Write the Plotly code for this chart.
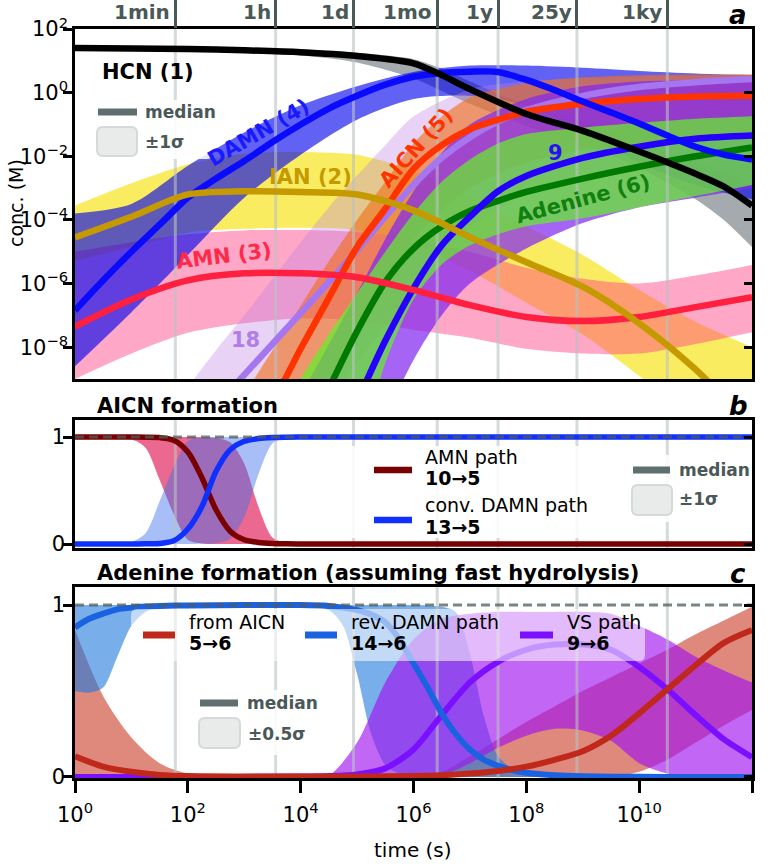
import math
import plotly.graph_objects as go

W, H = 773, 864
FONT = "DejaVu Sans"

# ---------------- data ----------------
mark_labels = ["1min", "1h", "1d", "1mo", "1y", "25y", "1ky"]
mark_seconds = [60, 3600, 86400, 2.63e6, 3.156e7, 7.889e8, 3.156e10]

# panel a : log10(time / s) and log10(conc / M)
hcn_lt = [0, 1, 2, 3, 4, 5, 6, 6.5, 7, 8, 9, 10, 11, 11.5, 12]
hcn_med = [1.4, 1.39, 1.37, 1.33, 1.27, 1.15, 0.92, 0.55, 0.11, -0.67, -1.2, -1.85, -2.55, -2.95, -3.55]
hcn_lo = [1.33, 1.32, 1.3, 1.25, 1.17, 0.95, 0.45, 0.05, -0.35, -1.05, -1.65, -2.35, -3.35, -4.0, -4.85]
hcn_hi = [1.47, 1.46, 1.44, 1.41, 1.36, 1.25, 1.05, 0.75, 0.35, -0.4, -0.95, -1.55, -2.2, -2.5, -2.9]

ian_lt = [0, 1, 2, 3, 4, 5, 6, 7, 8, 9, 10, 11, 12]
ian_med = [-4.55, -3.9, -3.2, -3.1, -3.12, -3.2, -3.7, -4.54, -5.33, -6.1, -7.25, -8.7, -10.5]
ian_lo = [-5.3, -4.85, -4.4, -4.28, -4.25, -4.32, -4.8, -5.6, -6.6, -7.6, -8.9, -10.3, -12.0]
ian_hi = [-3.55, -2.85, -2.25, -1.92, -1.87, -1.95, -2.45, -3.25, -4.2, -5.1, -6.2, -7.2, -8.0]

amn_lt = [0, 1, 2, 3, 4, 5, 6, 7, 8, 9, 10, 11, 12]
amn_med = [-7.35, -6.5, -5.9, -5.68, -5.68, -5.8, -6.2, -6.68, -7.05, -7.18, -7.05, -6.74, -6.43]
amn_lo = [-9.0, -8.2, -7.55, -7.25, -7.1, -7.15, -7.45, -7.7, -8.05, -8.2, -8.2, -7.9, -7.53]
amn_hi = [-5.0, -4.7, -4.45, -4.33, -4.32, -4.38, -4.6, -5.0, -5.5, -5.85, -6.0, -5.75, -5.42]

damn_lt = [0, 0.5, 1, 1.5, 2, 2.5, 3, 3.5, 4, 4.5, 5, 5.5, 6, 6.5, 7, 7.5, 8, 8.5, 9, 9.5, 10, 10.5, 11, 11.5, 12]
damn_med = [-6.85, -5.9, -5.0, -4.15, -3.3, -2.7, -2.15, -1.55, -1.0, -0.5, -0.1, 0.25, 0.5, 0.62, 0.66,
            0.65, 0.4, 0.08, -0.28, -0.62, -0.97, -1.35, -1.7, -1.95, -2.1]
damn_band_lt = [0, 1, 2, 3, 4, 5, 6, 7, 8, 9, 10, 11, 12]
damn_lo = [-8.6, -6.9, -5.1, -3.3, -1.95, -0.85, -0.2, -0.1, -0.4, -1.25, -2.2, -2.9, -3.35]
damn_hi = [-3.8, -3.5, -2.3, -1.25, -0.4, 0.2, 0.65, 0.85, 0.85, 0.78, 0.68, 0.6, 0.55]

aicn_lt = [3, 3.5, 4, 4.5, 5, 5.5, 6, 6.5, 7, 7.5, 8, 9, 10, 11, 12]
aicn_med = [-10.7, -9.7, -8.05, -6.45, -4.85, -3.65, -2.4, -1.65, -1.15, -0.85, -0.6, -0.35, -0.2, -0.12, -0.1]
aicn_band_lt = [2.5, 3, 3.5, 4, 4.5, 5, 5.5, 6, 6.5, 7, 8, 9, 10, 11, 12]
aicn_lo = [-14.5, -13.5, -12.5, -11.0, -9.3, -7.5, -6.0, -4.6, -3.7, -3.0, -2.2, -1.8, -1.6, -1.5, -1.45]
aicn_hi = [-11.0, -9.5, -8.1, -6.7, -5.3, -4.0, -2.8, -1.6, -0.75, -0.15, 0.3, 0.48, 0.55, 0.57, 0.58]

s18_lt = [2.5, 3, 3.5, 4, 4.5, 5, 5.5, 6, 6.5, 7, 7.5, 8, 9, 10, 11, 12]
s18_med = [-9.85, -8.87, -7.9, -6.93, -5.95, -4.95, -3.9, -2.9, -2.05, -1.4, -0.9, -0.55, -0.1, 0.18, 0.33, 0.43]
s18_band_lt = [1.5, 2, 2.5, 3, 3.5, 4, 4.5, 5, 5.5, 6, 7, 8, 9, 10, 11, 12]
s18_lo = [-15, -14, -13, -12, -11.2, -10.4, -9.6, -8.5, -7.3, -6.0, -4.2, -3.2, -2.6, -2.3, -2.1, -2.0]
s18_hi = [-11.0, -9.3, -8.1, -7.0, -5.85, -4.7, -3.6, -2.6, -1.65, -0.75, 0.1, 0.35, 0.45, 0.5, 0.53, 0.55]

s9_lt = [4.5, 5, 5.5, 6, 6.5, 7, 7.5, 8, 9, 10, 11, 12]
s9_med = [-11.5, -9.7, -7.8, -6.15, -4.8, -3.9, -3.1, -2.62, -2.05, -1.7, -1.45, -1.35]
s9_band_lt = [4, 5, 5.5, 6, 6.5, 7, 8, 9, 10, 11, 12]
s9_lo = [-14, -12, -10.2, -8.4, -7.0, -6.0, -4.9, -4.1, -3.6, -3.3, -3.0]
s9_hi = [-9.5, -6.3, -4.6, -3.1, -1.9, -1.0, -0.2, 0.2, 0.35, 0.4, 0.45]

ade_lt = [4, 4.5, 5, 5.5, 6, 6.5, 7, 7.5, 8, 9, 10, 11, 12]
ade_med = [-11.2, -9.3, -7.5, -5.95, -4.9, -4.2, -3.72, -3.4, -3.12, -2.7, -2.33, -2.0, -1.72]
ade_band_lt = [3.5, 4, 4.5, 5, 5.5, 6, 6.5, 7, 7.5, 8, 9, 10, 11, 12]
ade_lo = [-15, -14, -13, -11.5, -8.5, -6.5, -5.4, -4.8, -4.45, -4.2, -3.95, -3.6, -3.25, -2.9]
ade_hi = [-11.0, -9.0, -7.6, -6.3, -5.0, -3.8, -2.8, -2.1, -1.6, -1.3, -1.1, -0.95, -0.82, -0.74]

# panel b : AICN formation fractions
b_lt = [0, 0.5, 1, 1.25, 1.5, 1.75, 2, 2.25, 2.5, 2.75, 3, 3.25, 3.5, 3.75, 4, 5, 6, 8, 10, 12]
amnp_med = [1, 1, 1, 0.998, 0.995, 0.97, 0.86, 0.62, 0.32, 0.12, 0.04, 0.015, 0.005, 0.002, 0, 0, 0, 0, 0, 0]
amnp_lo = [1, 0.998, 0.98, 0.9, 0.6, 0.28, 0.04, 0.005, 0, 0, 0, 0, 0, 0, 0, 0, 0, 0, 0, 0]
amnp_hi = [1, 1, 1, 1, 1, 1, 1, 0.998, 0.99, 0.95, 0.75, 0.35, 0.06, 0.01, 0, 0, 0, 0, 0, 0]
damnp_med = [0, 0, 0, 0.002, 0.005, 0.03, 0.14, 0.35, 0.68, 0.88, 0.96, 0.985, 0.995, 0.998, 1, 1, 1, 1, 1, 1]
damnp_lo = [0, 0, 0, 0, 0, 0, 0, 0.002, 0.01, 0.05, 0.25, 0.65, 0.94, 0.99, 1, 1, 1, 1, 1, 1]
damnp_hi = [0, 0.002, 0.02, 0.1, 0.4, 0.72, 0.96, 0.995, 1, 1, 1, 1, 1, 1, 1, 1, 1, 1, 1, 1]

# panel c : adenine formation fractions
c_red_lt = [0, 0.5, 1, 1.5, 2, 3, 4, 5, 6, 6.5, 7, 7.5, 8, 8.5, 9, 9.5, 10, 10.5, 11, 11.5, 12]
red_med = [0.12, 0.06, 0.03, 0.012, 0.005, 0.003, 0.003, 0.003, 0.005, 0.01, 0.02, 0.035, 0.06, 0.1,
           0.15, 0.24, 0.37, 0.51, 0.65, 0.78, 0.855]
red_lo = [0, 0, 0, 0, 0, 0, 0, 0, 0, 0, 0, 0, 0, 0, 0, 0, 0.03, 0.1, 0.2, 0.3, 0.39]
red_hi = [0.855, 0.47, 0.23, 0.08, 0.02, 0.003, 0.002, 0.003, 0.01, 0.03, 0.12, 0.22, 0.32, 0.41,
          0.5, 0.58, 0.66, 0.74, 0.83, 0.91, 0.99]

c_blue_lt = [0, 0.25, 0.5, 0.75, 1, 1.25, 1.5, 2, 3, 4, 4.5, 4.75, 5, 5.25, 5.5, 5.75, 6, 6.25, 6.5,
             6.75, 7, 7.25, 7.5, 7.75, 8, 8.5, 9, 10, 11, 12]
blue_med = [0.87, 0.92, 0.95, 0.975, 0.985, 0.992, 0.995, 0.998, 1, 1, 0.995, 0.985, 0.97, 0.945, 0.9,
            0.8, 0.66, 0.52, 0.37, 0.25, 0.16, 0.1, 0.065, 0.04, 0.025, 0.01, 0.004, 0.001, 0, 0]
blue_lo = [0.5, 0.49, 0.52, 0.7, 0.88, 0.96, 0.99, 0.998, 1, 0.995, 0.97, 0.88, 0.6, 0.25, 0.07, 0.02,
           0.005, 0, 0, 0, 0, 0, 0, 0, 0, 0, 0, 0, 0, 0]
blue_hi = [1, 1, 1, 1, 1, 1, 1, 1, 1, 1, 1, 1, 1, 1, 1, 1, 1, 0.998, 0.99, 0.96, 0.72, 0.35, 0.12, 0.05,
           0.03, 0.012, 0.005, 0, 0, 0]

c_vs_lt = [0, 2, 4, 4.5, 5, 5.5, 6, 6.5, 7, 7.5, 8, 8.5, 9, 9.5, 10, 10.5, 11, 11.5, 12]
vs_med = [0, 0, 0.002, 0.005, 0.015, 0.05, 0.16, 0.36, 0.55, 0.67, 0.74, 0.77, 0.77, 0.74, 0.64, 0.51,
          0.36, 0.22, 0.115]
vs_lo = [0, 0, 0, 0, 0, 0, 0, 0.01, 0.08, 0.17, 0.24, 0.28, 0.27, 0.21, 0.08, 0.02, 0, 0, 0]
vs_hi = [0, 0, 0.003, 0.01, 0.2, 0.55, 0.8, 0.92, 0.95, 0.96, 0.96, 0.96, 0.96, 0.95, 0.88, 0.8, 0.7,
         0.62, 0.55]

# ---------------- helpers ----------------
def px(x):
    return x / W


def py(y):
    return 1 - y / H


def pw(lst):
    return [10 ** v for v in lst]


def ident(lst):
    return list(lst)


fig = go.Figure()
SM = 0.8


def band(xa, ya, t, lo, hi, color, f):
    fig.add_trace(go.Scatter(x=pw(t), y=f(lo), mode="lines",
                             line=dict(width=0, shape="spline", smoothing=SM),
                             xaxis=xa, yaxis=ya, hoverinfo="skip", showlegend=False))
    fig.add_trace(go.Scatter(x=pw(t), y=f(hi), mode="lines", fill="tonexty", fillcolor=color,
                             line=dict(width=0, shape="spline", smoothing=SM),
                             xaxis=xa, yaxis=ya, hoverinfo="skip", showlegend=False))


def med(xa, ya, t, v, color, width, f):
    fig.add_trace(go.Scatter(x=pw(t), y=f(v), mode="lines",
                             line=dict(width=width, color=color, shape="spline", smoothing=SM),
                             xaxis=xa, yaxis=ya, hoverinfo="skip", showlegend=False))


def vlines(xa, ya, y0, y1):
    xs, ys = [], []
    for s in mark_seconds:
        xs += [s, s, None]
        ys += [y0, y1, None]
    fig.add_trace(go.Scatter(x=xs, y=ys, mode="lines",
                             line=dict(color="rgba(185,193,193,0.6)", width=3),
                             xaxis=xa, yaxis=ya, hoverinfo="skip", showlegend=False))


def dashed_one(xa, ya):
    fig.add_trace(go.Scatter(x=[1, 1e12], y=[1, 1], mode="lines",
                             line=dict(color="rgba(80,92,92,0.75)", width=3, dash="9px,5px"),
                             xaxis=xa, yaxis=ya, hoverinfo="skip", showlegend=False))


# ---------------- panel a ----------------
band("x", "y", hcn_lt, hcn_lo, hcn_hi, "rgba(90,100,105,0.55)", pw)
band("x", "y", ian_lt, ian_lo, ian_hi, "rgba(245,225,0,0.62)", pw)
band("x", "y", amn_lt, amn_lo, amn_hi, "rgba(255,60,130,0.45)", pw)
band("x", "y", damn_band_lt, damn_lo, damn_hi, "rgba(0,0,235,0.62)", pw)
band("x", "y", s18_band_lt, s18_lo, s18_hi, "rgba(190,130,230,0.35)", pw)
band("x", "y", aicn_band_lt, aicn_lo, aicn_hi, "rgba(240,110,20,0.6)", pw)
band("x", "y", s9_band_lt, s9_lo, s9_hi, "rgba(130,40,240,0.72)", pw)
band("x", "y", ade_band_lt, ade_lo, ade_hi, "rgba(100,240,40,0.72)", pw)
vlines("x", "y", 1e-12, 1e3)
LW = 6.5
med("x", "y", s18_lt, s18_med, "#a676f0", LW, pw)
med("x", "y", aicn_lt, aicn_med, "#ff3300", LW, pw)
med("x", "y", ade_lt, ade_med, "#007a00", LW, pw)
med("x", "y", s9_lt, s9_med, "#2600ff", LW, pw)
med("x", "y", damn_lt, damn_med, "#0a0aff", LW, pw)
med("x", "y", amn_lt, amn_med, "#ff1f3f", LW, pw)
med("x", "y", ian_lt, ian_med, "#c49a00", LW, pw)
med("x", "y", hcn_lt, hcn_med, "#000000", LW, pw)

# ---------------- panel b ----------------
band("x2", "y2", b_lt, amnp_lo, amnp_hi, "rgba(225,30,90,0.67)", ident)
band("x2", "y2", b_lt, damnp_lo, damnp_hi, "rgba(60,110,235,0.45)", ident)
vlines("x2", "y2", -0.2, 1.3)
med("x2", "y2", b_lt, amnp_med, "#780000", 5.5, ident)
med("x2", "y2", b_lt, damnp_med, "#1030ff", 5.5, ident)
dashed_one("x2", "y2")

# ---------------- panel c ----------------
band("x3", "y3", c_red_lt, red_lo, red_hi, "rgba(200,50,30,0.58)", ident)
band("x3", "y3", c_blue_lt, blue_lo, blue_hi, "rgba(30,120,220,0.6)", ident)
band("x3", "y3", c_vs_lt, vs_lo, vs_hi, "rgba(160,20,240,0.65)", ident)
vlines("x3", "y3", -0.2, 1.3)
med("x3", "y3", c_vs_lt, vs_med, "#7a10ff", 6, ident)
med("x3", "y3", c_blue_lt, blue_med, "#1a62e0", 6, ident)
med("x3", "y3", c_red_lt, red_med, "#c0281c", 6, ident)
dashed_one("x3", "y3")

# dummy traces for overlay (tick-only) axes
for xa, ya, yv in [("x4", "y", 1), ("x", "y4", 1), ("x2", "y5", 0.5), ("x3", "y6", 0.5)]:
    fig.add_trace(go.Scatter(x=[10], y=[yv], mode="markers", marker=dict(opacity=0, size=1),
                             xaxis=xa, yaxis=ya, hoverinfo="skip", showlegend=False))

# ---------------- axes ----------------
XD = [px(75), px(752)]
YA = [py(379), py(29)]
YB = [py(548), py(420)]
YC = [py(778), py(587)]

frame = dict(showline=True, linecolor="black", linewidth=2.5, mirror=True,
             showgrid=False, zeroline=False, automargin=False)
plain = dict(showgrid=False, zeroline=False, showline=False, automargin=False)
tickfont = dict(family=FONT, size=21, color="black")

xt_vals = [10 ** k for k in range(0, 13, 2)]
xt_text = ["10<sup>%d</sup>" % k for k in range(0, 13, 2)]
ya_vals = [10 ** k for k in range(-8, 3, 2)]
ya_text = [("10<sup>%d</sup>" % k).replace("-", "\u2212") for k in range(-8, 3, 2)]

yt = dict(ticks="outside", ticklen=9, tickwidth=2.5, tickcolor="black", tickfont=tickfont)

fig.update_layout(
    template="none",
    width=W, height=H, margin=dict(l=0, r=0, t=0, b=0, pad=0), autosize=False,
    paper_bgcolor="white", plot_bgcolor="white", showlegend=False,
    font=dict(family=FONT, color="black"),
    xaxis=dict(domain=XD, anchor="y", type="log", range=[0, 12], ticks="",
               showticklabels=False, **frame),
    xaxis2=dict(domain=XD, anchor="y2", type="log", range=[0, 12], ticks="",
                showticklabels=False, matches="x", **frame),
    xaxis3=dict(domain=XD, anchor="y3", type="log", range=[0, 12], ticks="outside",
                ticklen=12, tickwidth=2.5, tickcolor="black", tickvals=xt_vals,
                ticktext=xt_text, tickfont=tickfont, matches="x", ticklabelstandoff=4,
                **frame),
    xaxis4=dict(overlaying="x", anchor="y", side="top", type="log", range=[0, 12],
                tickvals=mark_seconds, ticks="outside", ticklen=29, tickwidth=3,
                tickcolor="#4a5858", showticklabels=False, **plain),
    yaxis=dict(domain=YA, anchor="x", type="log", range=[-9, 2], tickvals=ya_vals,
               ticktext=ya_text, ticklabelstandoff=-9, **yt, **frame),
    yaxis2=dict(domain=YB, anchor="x2", range=[-0.037, 1.159], tickvals=[0, 1],
                ticktext=["0", "1"], ticklabelstandoff=-6, **yt, **frame),
    yaxis3=dict(domain=YC, anchor="x3", range=[-0.006, 1.105], tickvals=[0, 1],
                ticktext=["0", "1"], ticklabelstandoff=-6, **yt, **frame),
    yaxis4=dict(overlaying="y", anchor="x", side="right", type="log", range=[-9, 2],
                tickvals=ya_vals, ticks="inside", ticklen=8, tickwidth=2.5,
                tickcolor="black", showticklabels=False, **plain),
    yaxis5=dict(overlaying="y2", anchor="x2", side="right", range=[-0.037, 1.159],
                tickvals=[0, 1], ticks="inside", ticklen=8, tickwidth=2.5,
                tickcolor="black", showticklabels=False, **plain),
    yaxis6=dict(overlaying="y3", anchor="x3", side="right", range=[-0.006, 1.105],
                tickvals=[0, 1], ticks="inside", ticklen=8, tickwidth=2.5,
                tickcolor="black", showticklabels=False, **plain),
)

# ---------------- annotations ----------------
ann = []


def text(x, y, s, size=19, color="black", xanchor="left", angle=0, yanchor="middle"):
    ann.append(dict(x=px(x), y=py(y), xref="paper", yref="paper", text=s, showarrow=False,
                    xanchor=xanchor, yanchor=yanchor, textangle=angle,
                    font=dict(family=FONT, size=size, color=color)))


# top time labels (right-aligned to the tick marks)
for lab, s in zip(mark_labels, mark_seconds):
    ann.append(dict(x=math.log10(s), y=py(12), xref="x", yref="paper",
                    text="<b>%s</b>" % lab, showarrow=False, xanchor="right",
                    yanchor="middle", xshift=-3,
                    font=dict(family=FONT, size=20, color="#4a5858")))

# panel labels
text(738, 15, "<b><i>a</i></b>", size=26, xanchor="center")
text(738, 406, "<b><i>b</i></b>", size=26, xanchor="center")
text(738, 574, "<b><i>c</i></b>", size=26, xanchor="center")

# panel titles / axis titles
text(95, 406, "<b>AICN formation</b>", size=21)
text(95, 573, "<b>Adenine formation (assuming fast hydrolysis)</b>", size=21)
text(413, 850, "time (s)", size=20, xanchor="center")
text(16, 203, "conc. (M)", size=19, xanchor="center", angle=-90)

# species labels in panel a
text(148, 72, "<b>HCN (1)</b>", size=21, xanchor="center")
text(258, 133, "<b>DAMN (4)</b>", size=21, color="#1a1aff", xanchor="center", angle=-30)
text(310, 177, "<b>IAN (2)</b>", size=21, color="#c49a00", xanchor="center")
text(224, 256, "<b>AMN (3)</b>", size=21, color="#ff2a4a", xanchor="center", angle=-7)
text(245, 340, "<b>18</b>", size=21, color="#b07ee8", xanchor="center")
text(416, 148, "<b>AICN (5)</b>", size=21, color="#ff3300", xanchor="center", angle=-48)
text(555, 153, "<b>9</b>", size=21, color="#2a10f0", xanchor="center")
text(583, 199, "<b>Adenine (6)</b>", size=21, color="#108010", xanchor="center", angle=-15)

# legends panel b
text(423, 457, "AMN path", size=19)
text(423, 478, "<b>10\u21925</b>", size=19)
text(423, 505, "conv. DAMN path", size=19)
text(423, 527, "<b>13\u21925</b>", size=19)

# legends panel c
text(187, 622, "from AICN", size=19)
text(187, 643, "<b>5\u21926</b>", size=19)
text(349, 622, "rev. DAMN path", size=19)
text(349, 643, "<b>14\u21926</b>", size=19)
text(565, 622, "VS path", size=19)
text(565, 643, "<b>9\u21926</b>", size=19)

# median / sigma legends
MEDC = "#4a5858"
text(143, 112, "<b>median</b>", size=17, color=MEDC)
text(143, 142, "<b>\u00b11\u03c3</b>", size=17, color=MEDC)
text(677, 470, "<b>median</b>", size=17, color=MEDC)
text(677, 499, "<b>\u00b11\u03c3</b>", size=17, color=MEDC)
text(245, 703, "<b>median</b>", size=17, color=MEDC)
text(246, 734, "<b>\u00b10.5\u03c3</b>", size=17, color=MEDC)

fig.update_layout(annotations=ann)

# ---------------- shapes (legend boxes & swatches) ----------------
shapes = []


def rrect(x0, y0, x1, y1, r, fill, line=None, lw=0):
    pts = ("M {a},{b} L {c},{b} Q {d},{b} {d},{e} L {d},{f} Q {d},{g} {c},{g} "
           "L {a},{g} Q {h},{g} {h},{f} L {h},{e} Q {h},{b} {a},{b} Z")
    path = pts.format(a=px(x0 + r), b=py(y0), c=px(x1 - r), d=px(x1), e=py(y0 + r),
                      f=py(y1 - r), g=py(y1), h=px(x0))
    shapes.append(dict(type="path", path=path, xref="paper", yref="paper",
                       fillcolor=fill, line=dict(color=line or "rgba(0,0,0,0)", width=lw),
                       layer="above"))


def swatch(x0, x1, y, color, width=6.5):
    shapes.append(dict(type="line", x0=px(x0), x1=px(x1), y0=py(y), y1=py(y),
                       xref="paper", yref="paper", line=dict(color=color, width=width),
                       layer="above"))


# legend backgrounds
rrect(93, 100, 212, 159, 5, "rgba(255,255,255,0.85)")
rrect(338, 446, 600, 538, 5, "rgba(255,255,255,0.85)")
rrect(628, 455, 748, 522, 5, "rgba(255,255,255,0.85)")
rrect(195, 690, 322, 755, 5, "rgba(255,255,255,0.85)")
rrect(131, 609, 645, 661, 6, "rgba(255,255,255,0.55)")

# median swatches and sigma boxes
SWC = "#5f6e6e"
swatch(98, 137, 112, SWC, 7)
rrect(97, 127, 137, 156, 6, "#e9eaea", "#d6d9d9", 2)
swatch(633, 670, 470, SWC, 7)
rrect(632, 485, 672, 515, 6, "#e9eaea", "#d6d9d9", 2)
swatch(200, 238, 703, SWC, 7)
rrect(199, 718, 240, 748, 6, "#e9eaea", "#d6d9d9", 2)

# series swatches
swatch(374, 412, 470, "#780000", 6.5)
swatch(374, 412, 520, "#1030ff", 6.5)
swatch(143, 175, 635, "#c0281c", 7)
swatch(305, 337, 635, "#1a62e0", 7)
swatch(520, 553, 635, "#7a10ff", 7)

fig.update_layout(shapes=shapes)

fig.write_html("out.html")
